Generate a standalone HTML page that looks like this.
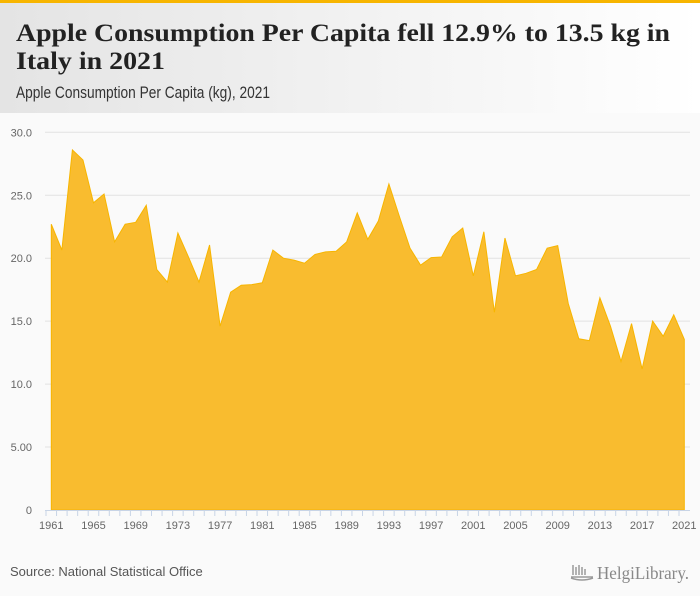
<!DOCTYPE html>
<html><head><meta charset="utf-8"><style>
html,body{margin:0;padding:0;background:#fafafa;}
svg{display:block;font-family:"Liberation Sans",sans-serif;}
</style></head><body>
<svg id="chart" width="700" height="596" viewBox="0 0 700 596">
<defs><linearGradient id="hg" x1="0" x2="1" y1="0" y2="0"><stop offset="0" stop-color="#e4e4e4"/><stop offset="1" stop-color="#ffffff"/></linearGradient></defs>
<rect x="0" y="0" width="700" height="596" fill="#fafafa"/>
<rect x="0" y="0" width="700" height="113" fill="url(#hg)"/>
<rect x="0" y="0" width="700" height="3" fill="#f7b500"/>
<text x="16" y="41" font-family="Liberation Serif,serif" font-weight="bold" font-size="25" fill="#222" textLength="654" lengthAdjust="spacingAndGlyphs">Apple Consumption Per Capita fell 12.9% to 13.5 kg in</text>
<text x="16" y="69" font-family="Liberation Serif,serif" font-weight="bold" font-size="25" fill="#222" textLength="149" lengthAdjust="spacingAndGlyphs">Italy in 2021</text>
<text x="16" y="98" font-size="17" fill="#333" textLength="254" lengthAdjust="spacingAndGlyphs">Apple Consumption Per Capita (kg), 2021</text>
<g id="grid"></g>
<g id="plot"></g>
<g id="xaxis"></g>
<text x="10" y="576" font-size="13" fill="#555">Source: National Statistical Office</text>
<g>
<path d="M571 577 h22 M573 575 v-10 M576 575 v-8 M579 575 v-10 M582 575 v-8 M585 575 v-6 M571 578 q11 4 22 0" stroke="#999" stroke-width="1.5" fill="none"/>
<text x="597" y="579" font-family="Liberation Serif,serif" font-size="18" fill="#888" textLength="92" lengthAdjust="spacingAndGlyphs">HelgiLibrary.</text>
</g>
</svg>
<script>
const years = [];
for (let y = 1961; y <= 2021; y++) years.push(y);
const values = [22.7,20.65,28.6,27.8,24.4,25.1,21.3,22.7,22.85,24.2,19.1,18.1,22.0,20.1,18.1,21.05,14.6,17.3,17.85,17.9,18.05,20.65,20.0,19.85,19.6,20.3,20.5,20.55,21.3,23.6,21.5,22.95,25.9,23.3,20.8,19.45,20.05,20.1,21.7,22.4,18.6,22.1,15.7,21.6,18.6,18.8,19.1,20.8,21.0,16.4,13.6,13.45,16.85,14.6,11.8,14.8,11.2,15.0,13.8,15.5,13.55];
const yTicks = [0,5,10,15,20,25,30];
const yTickLabels = ["0","5.00","10.0","15.0","20.0","25.0","30.0"];
const xLabelYears = [1961,1965,1969,1973,1977,1981,1985,1989,1993,1997,2001,2005,2009,2013,2017,2021];

const NS = "http://www.w3.org/2000/svg";
const X0 = 51.3, X1 = 684.3, Y0 = 510, Y1 = 132.3;
const xs = v => X0 + (v - years[0]) / (years[years.length-1] - years[0]) * (X1 - X0);
const ys = v => Y0 - v / 30 * (Y0 - Y1);
function mk(tag, attrs, parent){const e=document.createElementNS(NS,tag);for(const k in attrs)e.setAttribute(k,attrs[k]);parent.appendChild(e);return e;}

const grid = document.getElementById('grid');
yTicks.forEach((t,i)=>{
  if (t>0){
    const l = mk('line',{x1:45,x2:690,y1:ys(t),y2:ys(t),stroke:'#e2e2e2','stroke-width':1},grid);
    
    
  }
  const tx = mk('text',{x:32,y:ys(t)+4,'font-size':11,fill:'#666','text-anchor':'end'},grid);
  tx.textContent = yTickLabels[i];
  
  
});

const plot = document.getElementById('plot');
let d = 'M'+xs(years[0])+','+ys(0);
years.forEach((y,i)=>{ d += ' L'+xs(y).toFixed(2)+','+ys(values[i]).toFixed(2); });
d += ' L'+xs(years[years.length-1])+','+ys(0)+' Z';
const area = mk('path',{d:d,fill:'#f9bc2f',stroke:'#f7b500','stroke-width':1},plot);



const xa = document.getElementById('xaxis');
const axl = mk('line',{x1:45,x2:690,y1:Y0+0.5,y2:Y0+0.5,stroke:'#c8d4e6','stroke-width':1},xa);


years.forEach(y=>{
  const tk = mk('line',{x1:xs(y)-5.3,x2:xs(y)-5.3,y1:Y0,y2:Y0+6,stroke:'#c8d4e6','stroke-width':1},xa);
  
  
});
xLabelYears.forEach(y=>{
  const tx = mk('text',{x:xs(y),y:Y0+19,'font-size':11,fill:'#666','text-anchor':'middle'},xa);
  tx.textContent = y;
  
  
});
</script>
</body></html>
